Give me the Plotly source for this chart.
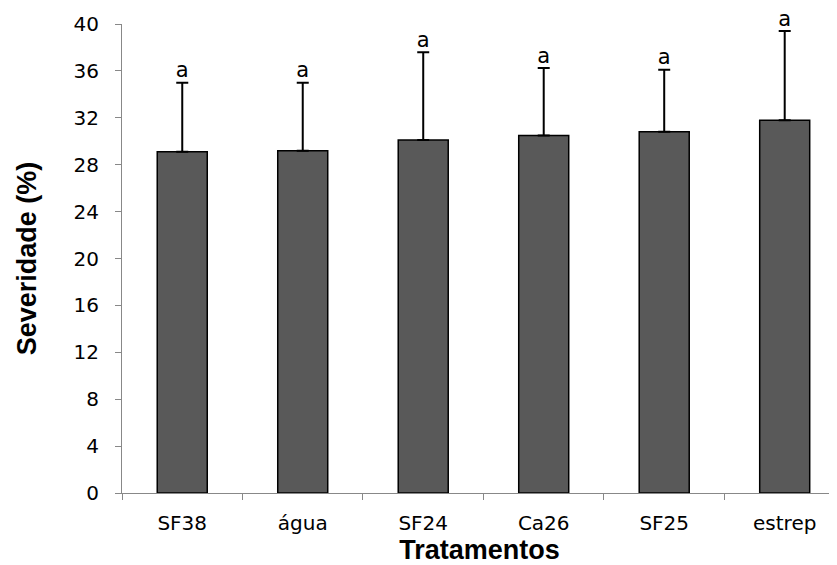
import plotly.graph_objects as go

categorias = ["SF38", "água", "SF24", "Ca26", "SF25", "estrep"]
severidade = [29.1, 29.2, 30.1, 30.5, 30.8, 31.8]
desvio = [5.9, 5.8, 7.5, 5.75, 5.3, 7.6]
letras = ["a", "a", "a", "a", "a", "a"]
y_ticks = [0, 4, 8, 12, 16, 20, 24, 28, 32, 36, 40]

tick_font = dict(family="DejaVu Sans, sans-serif", size=20, color="black")

fig = go.Figure()
fig.add_trace(go.Bar(
    x=categorias, y=severidade, width=0.415,
    marker=dict(color="#595959", line=dict(color="black", width=1.5)),
    error_y=dict(type="data", array=desvio, arrayminus=[0]*len(desvio), symmetric=False,
                 color="black", thickness=2, width=6),
    showlegend=False,
))
fig.add_trace(go.Scatter(
    x=categorias, y=[m + s for m, s in zip(severidade, desvio)],
    mode="text", text=letras, textposition="top center",
    textfont=dict(family="DejaVu Sans, sans-serif", size=21, color="black"),
    showlegend=False, cliponaxis=False,
))

fig.update_layout(
    width=829, height=557,
    margin=dict(l=114, r=0, t=16, b=72),
    plot_bgcolor="white", paper_bgcolor="white",
)
fig.update_xaxes(
    range=[-0.5, 5.434], automargin=False,
    showline=True, linecolor="#888888", linewidth=1,
    ticks="outside", tickson="boundaries", ticklen=6, tickcolor="#888888",
    tickfont=tick_font, ticklabelstandoff=12,
    title=dict(text="<b>Tratamentos</b>",
               font=dict(family="Liberation Sans, Arial, sans-serif", size=27, color="black"),
               standoff=4),
    showgrid=False,
)
fig.update_yaxes(
    range=[0, 40], tickvals=y_ticks, automargin=False,
    showline=True, linecolor="#888888", linewidth=1,
    ticks="outside", ticklen=6, tickcolor="#888888",
    tickfont=tick_font, ticklabelstandoff=12,
    title=dict(text="<b>Severidade (%)</b>",
               font=dict(family="Liberation Sans, Arial, sans-serif", size=27, color="black"),
               standoff=29),
    showgrid=False, zeroline=False,
)

fig.write_html("out.html")
